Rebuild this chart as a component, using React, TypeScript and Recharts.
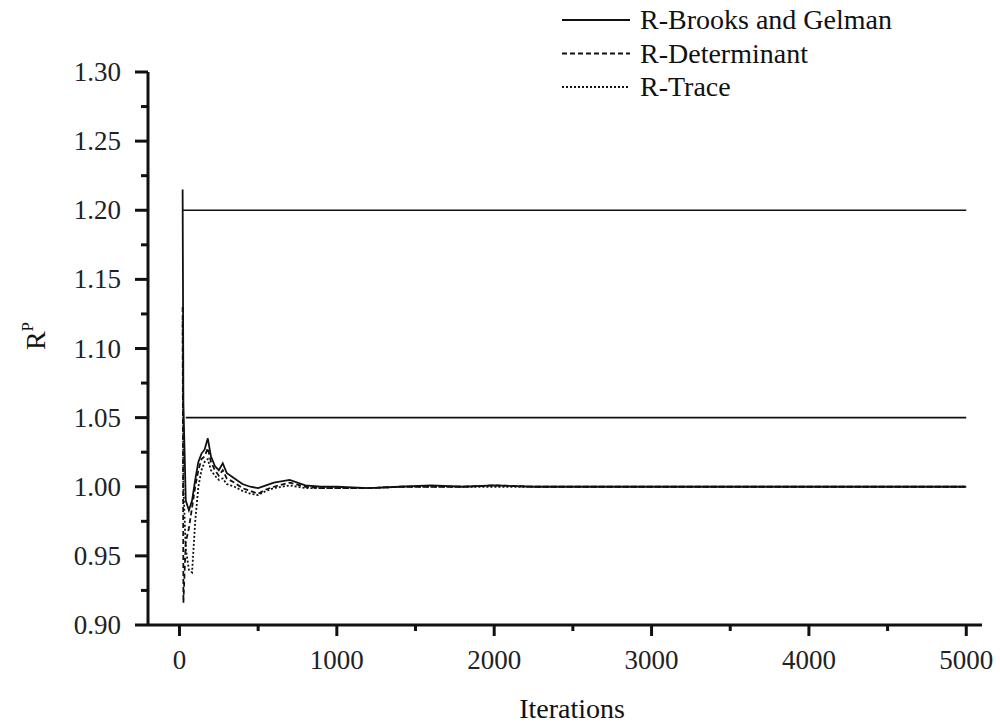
import { LineChart, Line, XAxis, YAxis, ReferenceLine } from 'recharts';

document.body.style.margin = '0';

const FONT = '"Liberation Serif", "Times New Roman", serif';
const INK = '#111';

// Iterations at which the three diagnostics were sampled
const iterations = [
  20, 25, 40, 60, 80, 100, 120, 140, 160, 180, 200, 225, 250, 275, 300, 350, 400, 450, 500, 550,
  600, 700, 800, 900, 1000, 1200, 1400, 1600, 1800, 2000, 2250, 2500, 3000, 3500, 4000, 4500, 5000,
];

const brooksGelman = [
  1.215, 1.06, 0.99, 0.983, 0.99, 1.005, 1.018, 1.024, 1.027, 1.035, 1.022, 1.015, 1.012, 1.017, 1.01,
  1.006, 1.002, 1.0, 0.999, 1.001, 1.003, 1.005, 1.001, 1.0, 1.0, 0.999, 1.0, 1.001, 1.0, 1.001, 1.0,
  1.0, 1.0, 1.0, 1.0, 1.0, 1.0,
];

const determinant = [
  1.13, 0.916, 0.96, 0.97, 0.985, 1.0, 1.012, 1.02, 1.022, 1.028, 1.018, 1.012, 1.008, 1.012, 1.006,
  1.003, 0.999, 0.997, 0.995, 0.998, 1.0, 1.003, 1.0, 0.999, 0.999, 0.999, 1.0, 1.0, 1.0, 1.001, 1.0,
  1.0, 1.0, 1.0, 1.0, 1.0, 1.0,
];

const trace = [
  1.12, 1.0, 0.955, 0.94, 0.938, 0.975, 1.0, 1.012, 1.018, 1.02, 1.012, 1.008, 1.005, 1.006, 1.002,
  1.0, 0.997, 0.995, 0.994, 0.997, 0.999, 1.001, 0.999, 0.999, 0.999, 0.999, 1.0, 1.0, 1.0, 1.0, 1.0,
  1.0, 1.0, 1.0, 1.0, 1.0, 1.0,
];

// horizontal threshold lines
const thresholds = [1.2, 1.05];
const thresholdStart = [20, 40];

const xTicks = [0, 500, 1000, 1500, 2000, 2500, 3000, 3500, 4000, 4500, 5000];
const yTicks = [0.9, 0.925, 0.95, 0.975, 1.0, 1.025, 1.05, 1.075, 1.1, 1.125, 1.15, 1.175, 1.2, 1.225, 1.25, 1.275, 1.3];

const legendItems = [
  { name: 'R-Brooks and Gelman', dash: undefined },
  { name: 'R-Determinant', dash: '5 3' },
  { name: 'R-Trace', dash: '2 2' },
];

const data = iterations.map((iter, i) => ({
  iter,
  brooks: brooksGelman[i],
  det: determinant[i],
  trace: trace[i],
}));

const YTick = (props: any) => {
  const { x, y, payload } = props;
  const v = payload.value as number;
  const major = Math.round(v * 1000) % 50 === 0;
  return (
    <g>
      <line x1={x - (major ? 13 : 7)} x2={x} y1={y} y2={y} stroke={INK} strokeWidth={3} />
      {major && (
        <text x={x - 27} y={y + 9} textAnchor="end" fontFamily={FONT} fontSize={27} fill="#222">
          {v.toFixed(2)}
        </text>
      )}
    </g>
  );
};

const XTick = (props: any) => {
  const { x, y, payload } = props;
  const v = payload.value as number;
  const major = v % 1000 === 0;
  return (
    <g>
      <line x1={x} x2={x} y1={y} y2={y + (major ? 11 : 6)} stroke={INK} strokeWidth={3} />
      {major && (
        <text x={x} y={y + 44} textAnchor="middle" fontFamily={FONT} fontSize={27} fill="#222">
          {v}
        </text>
      )}
    </g>
  );
};

const LegendBox = () => (
  <svg width={1000} height={110} style={{ position: 'absolute', top: 0, left: 0 }}>
    {legendItems.map((item, i) => {
      const cy = 20 + i * 33.5;
      return (
        <g key={item.name}>
          <line x1={562} x2={630} y1={cy} y2={cy} stroke={INK} strokeWidth={2} strokeDasharray={item.dash} />
          <text x={640} y={cy + 9} fontFamily={FONT} fontSize={28} fill="#111">
            {item.name}
          </text>
        </g>
      );
    })}
  </svg>
);

export default function App() {
  return (
    <div style={{ position: 'relative', width: 1000, height: 724 }}>
      <LineChart width={1000} height={724} data={data} margin={{ top: 72, right: 18, bottom: 0, left: 0 }}>
        <XAxis
          dataKey="iter"
          type="number"
          domain={[-200, 5100]}
          ticks={xTicks}
          interval={0}
          height={99}
          tickSize={0}
          tickMargin={0}
          tickLine={false}
          tick={<XTick />}
          axisLine={{ stroke: INK, strokeWidth: 3 }}
          label={(p: any) => (
            <text
              x={p.viewBox.x + p.viewBox.width / 2 + 7}
              y={p.viewBox.y + 93}
              textAnchor="middle"
              fontFamily={FONT}
              fontSize={28}
              fill="#111"
            >
              Iterations
            </text>
          )}
        />
        <YAxis
          type="number"
          domain={[0.9, 1.3]}
          ticks={yTicks}
          interval={0}
          width={148}
          tickSize={0}
          tickMargin={0}
          tickLine={false}
          tick={<YTick />}
          axisLine={{ stroke: INK, strokeWidth: 3 }}
          label={() => (
            <text transform="translate(45, 336) rotate(-90)" textAnchor="middle" fontFamily={FONT} fontSize={28} fill="#111">
              R
              <tspan fontSize={17} dy={-12}>P</tspan>
            </text>
          )}
        />
        {thresholds.map((t, i) => (
          <ReferenceLine
            key={t}
            segment={[{ x: thresholdStart[i], y: t }, { x: 5000, y: t }]}
            stroke={INK}
            strokeWidth={1.6}
          />
        ))}
        <Line dataKey="trace" stroke={INK} strokeWidth={1.8} strokeDasharray="2 2" dot={false} isAnimationActive={false} />
        <Line dataKey="det" stroke={INK} strokeWidth={1.8} strokeDasharray="5 3" dot={false} isAnimationActive={false} />
        <Line dataKey="brooks" stroke={INK} strokeWidth={1.8} dot={false} isAnimationActive={false} />
      </LineChart>
      <LegendBox />
    </div>
  );
}
